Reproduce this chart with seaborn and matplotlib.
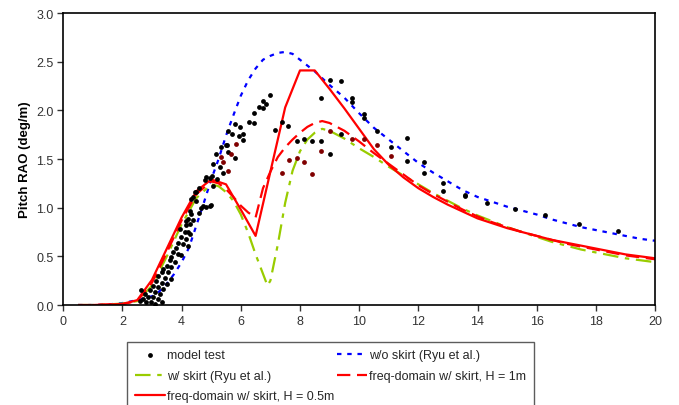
import matplotlib
matplotlib.use("Agg")
import matplotlib.pyplot as plt
import seaborn as sns
import pandas as pd

# ---------------- data ----------------
model_x = [4.14, 4.27, 3.94, 4.10, 4.27, 3.99, 4.16, 3.88, 4.05, 3.82, 4.22, 3.71, 3.88, 3.65, 3.99,
           3.60, 3.77, 3.49, 3.65, 3.37, 3.32, 3.54, 3.21, 3.43, 3.65, 3.15, 3.32, 3.49, 3.04, 3.21,
           3.37, 2.92, 3.09, 3.26, 2.76, 2.87, 3.04, 3.21, 2.70, 2.81, 2.98, 2.59, 2.64, 3.09, 3.32,
           4.21, 4.38, 4.60, 4.33, 4.49, 4.60,
           5.49, 5.17, 5.57, 5.06, 5.29, 5.40, 4.84, 4.95, 4.78, 5.01, 4.44, 4.39, 4.50, 4.72, 4.95,
           4.27, 4.33, 4.22, 4.16, 4.83, 5.00, 4.66, 5.06, 5.19,
           6.97, 6.75, 6.86, 6.61, 6.75, 6.43, 6.27, 6.43, 5.82, 5.98, 5.57, 5.71, 6.07, 5.94, 6.07,
           5.53, 5.82, 5.34,
           7.40, 7.17, 7.61, 7.89, 8.15, 8.41, 8.71, 8.71, 9.03, 9.39, 9.75, 9.75, 10.18, 10.18,
           10.60, 11.62, 11.08, 9.39, 9.03, 11.62, 12.18, 12.18, 12.82, 12.82, 13.57, 13.57,
           14.33, 15.26, 16.27, 17.43, 18.76]
model_y = [0.86, 0.83, 0.78, 0.75, 0.73, 0.70, 0.68, 0.64, 0.63, 0.59, 0.61, 0.54, 0.52, 0.49, 0.51,
           0.46, 0.44, 0.40, 0.39, 0.37, 0.34, 0.34, 0.30, 0.28, 0.27, 0.25, 0.23, 0.22, 0.20, 0.18,
           0.16, 0.15, 0.13, 0.11, 0.11, 0.08, 0.08, 0.06, 0.06, 0.03, 0.03, 0.04, 0.15, 0.01, 0.03,
           0.75, 0.87, 0.95, 1.09, 1.16, 1.20,
           1.64, 1.55, 1.57, 1.45, 1.42, 1.36, 1.31, 1.30, 1.28, 1.33, 1.16, 1.11, 1.07, 1.02, 1.02,
           0.97, 0.94, 0.88, 0.82, 1.01, 1.03, 1.00, 1.22, 1.29,
           2.16, 2.10, 2.07, 2.03, 2.02, 1.97, 1.88, 1.87, 1.86, 1.83, 1.79, 1.76, 1.76, 1.74, 1.70,
           1.64, 1.51, 1.62,
           1.88, 1.80, 1.84, 1.68, 1.71, 1.68, 1.68, 2.13, 2.31, 2.30, 2.13, 2.09, 1.96, 1.92,
           1.79, 1.72, 1.62, 1.76, 1.55, 1.48, 1.47, 1.36, 1.25, 1.17, 1.13, 1.12,
           1.045, 0.99, 0.925, 0.83, 0.757]

model2_x = [5.85, 5.68, 5.34, 5.40, 5.57, 7.40, 7.62, 7.89, 8.15, 8.41, 8.71, 9.03, 9.75, 10.18,
            10.60, 11.08]
model2_y = [1.65, 1.55, 1.52, 1.47, 1.38, 1.36, 1.49, 1.51, 1.47, 1.35, 1.58, 1.79, 1.71, 1.71,
            1.64, 1.53]

wo_x = [0.5, 1, 1.5, 2, 2.5, 3, 3.25, 3.5, 3.75, 4, 4.25, 4.5, 4.75, 5, 5.25, 5.5, 5.75, 6, 6.25,
        6.5, 6.75, 7, 7.25, 7.5, 7.75, 8, 8.25, 8.5, 8.75, 9, 9.5, 10, 10.5, 11, 11.5, 12, 12.5,
        13, 13.5, 14, 14.5, 15, 15.5, 16, 16.5, 17, 17.5, 18, 18.5, 19, 19.5, 20]
wo_y = [0, 0, 0.005, 0.02, 0.05, 0.09, 0.14, 0.22, 0.32, 0.44, 0.59, 0.82, 1.05, 1.29, 1.50,
        1.74, 1.95, 2.15, 2.31, 2.43, 2.52, 2.56, 2.59, 2.60, 2.58, 2.52, 2.46, 2.40, 2.33,
        2.26, 2.13, 1.97, 1.82, 1.70, 1.58, 1.46, 1.36, 1.27, 1.18, 1.11, 1.06, 1.01, 0.97,
        0.93, 0.88, 0.84, 0.80, 0.77, 0.74, 0.71, 0.68, 0.66]

w_x = [0.5, 1, 1.5, 2, 2.5, 3, 3.5, 4, 4.5, 5, 5.25, 5.5, 5.75, 6, 6.25, 6.5, 6.75, 6.9, 7.0,
       7.25, 7.5, 7.75, 8, 8.25, 8.5, 8.75, 9, 9.5, 10, 10.5, 11, 11.5, 12, 12.5, 13, 13.5, 14,
       14.5, 15, 15.5, 16, 16.5, 17, 17.5, 18, 18.5, 19, 19.5, 20]
w_y = [0, 0, 0.005, 0.015, 0.04, 0.2, 0.5, 0.83, 1.1, 1.24, 1.22, 1.16, 1.07, 0.93, 0.74, 0.52,
       0.32, 0.2, 0.25, 0.62, 1.05, 1.38, 1.58, 1.70, 1.77, 1.81, 1.79, 1.71, 1.61, 1.52, 1.42,
       1.33, 1.24, 1.15, 1.07, 0.99, 0.92, 0.86, 0.80, 0.75, 0.70, 0.65, 0.61, 0.57, 0.54,
       0.51, 0.48, 0.46, 0.44]

h1_x = [0.5, 1, 1.5, 2, 2.5, 3, 3.5, 4, 4.5, 5, 5.25, 5.5, 5.75, 6, 6.25, 6.5, 6.75, 7, 7.25,
        7.5, 7.75, 8, 8.25, 8.5, 8.75, 9, 9.5, 10, 10.5, 11, 11.5, 12, 12.5, 13, 13.5, 14,
        14.5, 15, 15.5, 16, 16.5, 17, 17.5, 18, 18.5, 19, 19.5, 20]
h1_y = [0, 0, 0.005, 0.01, 0.04, 0.23, 0.54, 0.87, 1.14, 1.27, 1.25, 1.19, 1.11, 1.02, 0.95,
        0.90, 1.20, 1.37, 1.52, 1.62, 1.70, 1.77, 1.83, 1.87, 1.89, 1.87, 1.79, 1.68, 1.56,
        1.45, 1.34, 1.23, 1.14, 1.06, 0.98, 0.91, 0.85, 0.80, 0.75, 0.71, 0.67, 0.63, 0.60,
        0.57, 0.54, 0.51, 0.49, 0.47]

h05_x = [1, 1.5, 2, 2.5, 3, 3.5, 4, 4.5, 5, 5.5, 6, 6.5, 7.5, 8, 8.5, 9, 9.5, 10, 10.5, 11,
         11.5, 12, 12.5, 13, 13.5, 14, 14.5, 15, 15.5, 16, 16.5, 17, 17.5, 18, 18.5, 19, 19.5, 20]
h05_y = [0, 0.005, 0.01, 0.05, 0.26, 0.58, 0.90, 1.17, 1.29, 1.24, 0.98, 0.71, 2.03, 2.41,
         2.41, 2.22, 2.02, 1.81, 1.60, 1.44, 1.31, 1.20, 1.11, 1.03, 0.96, 0.89, 0.84, 0.79,
         0.75, 0.71, 0.67, 0.64, 0.61, 0.58, 0.55, 0.52, 0.50, 0.48]

x_ticks = [0, 2, 4, 6, 8, 10, 12, 14, 16, 18, 20]
y_ticks = [0.0, 0.5, 1.0, 1.5, 2.0, 2.5, 3.0]
y_label = "Pitch RAO (deg/m)"

# ---------------- style ----------------
sns.set_theme(style="white")
plt.rcParams['font.family'] = ['Liberation Sans', 'DejaVu Sans']

fig, ax = plt.subplots(figsize=(6.79, 4.06), dpi=100)
fig.subplots_adjust(left=0.0932, right=0.9647, bottom=0.2463, top=0.9655)

sns.lineplot(x=wo_x, y=wo_y, ax=ax, color="#0000ff", lw=1.6, linestyle=(0, (2.0, 2.6)),
             label="w/o skirt (Ryu et al.)", estimator=None, sort=False)
sns.lineplot(x=w_x, y=w_y, ax=ax, color="#99cc00", lw=1.6, linestyle=(0, (7, 3, 2, 3)),
             label="w/ skirt (Ryu et al.)", estimator=None, sort=False)
sns.lineplot(x=h1_x, y=h1_y, ax=ax, color="#ff0000", lw=1.6, linestyle=(0, (6, 3)),
             label="freq-domain w/ skirt, H = 1m", estimator=None, sort=False)
sns.lineplot(x=h05_x, y=h05_y, ax=ax, color="#ff0000", lw=1.6, linestyle="-",
             label="freq-domain w/ skirt, H = 0.5m", estimator=None, sort=False)
sns.scatterplot(x=model_x, y=model_y, ax=ax, color="black", s=12, linewidth=0,
                label="model test", zorder=5)
sns.scatterplot(x=model2_x, y=model2_y, ax=ax, color="#800000", s=12, linewidth=0,
                legend=False, zorder=5)

ax.set_xlim(0, 20)
ax.set_ylim(0, 3.0)
ax.set_xticks(x_ticks)
ax.set_yticks(y_ticks)
ax.set_yticklabels([f"{v:.1f}" for v in y_ticks])
ax.set_ylabel(y_label, fontsize=9.5, fontweight="bold", color="black", labelpad=4)
ax.set_xlabel("")
ax.tick_params(axis="both", direction="out", length=4, width=1, colors="#333333",
               labelsize=9, bottom=True, left=True, pad=3)
ax.tick_params(axis="both", labelcolor="#333333")
for sp in ax.spines.values():
    sp.set_visible(True)
    sp.set_color("black")
    sp.set_linewidth(1.2)
ax.grid(False)

handles, labels = ax.get_legend_handles_labels()
order = ["model test", "w/ skirt (Ryu et al.)", "freq-domain w/ skirt, H = 0.5m",
         "w/o skirt (Ryu et al.)", "freq-domain w/ skirt, H = 1m"]
hmap = dict(zip(labels, handles))
leg = ax.legend([hmap[l] for l in order], order, ncol=2, loc="upper left",
                bbox_to_anchor=(127 / 679, 1 - 343 / 406), bbox_transform=fig.transFigure,
                borderaxespad=0, fontsize=9, frameon=True, fancybox=False,
                edgecolor="#333333", handlelength=2.4, handletextpad=0.2,
                columnspacing=0.2, labelspacing=0.68, borderpad=0.6, markerscale=1.0)
leg.get_frame().set_linewidth(1.0)

fig.savefig("out.png", dpi=100)
